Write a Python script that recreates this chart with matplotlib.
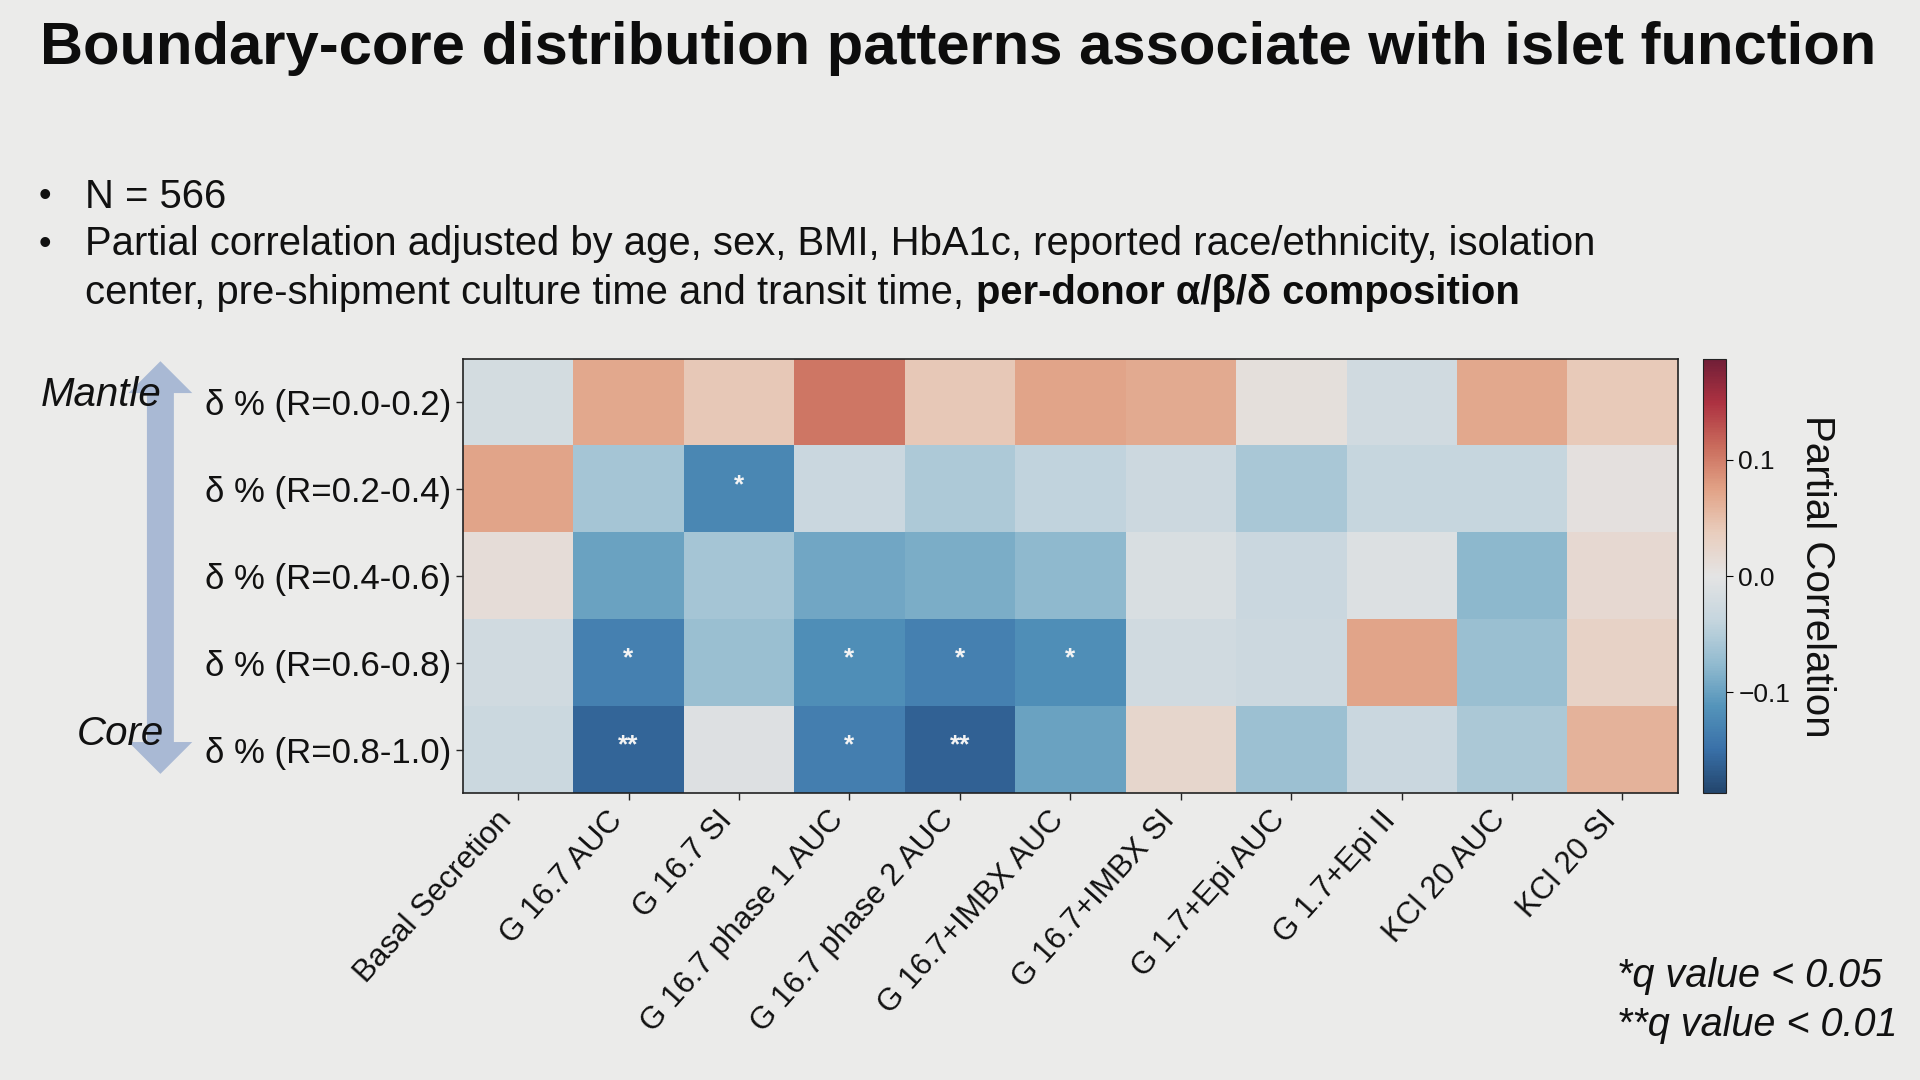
import numpy as np
import matplotlib
matplotlib.use("Agg")
from matplotlib import pyplot as plt
from matplotlib.patches import Polygon
from matplotlib.colors import ListedColormap

plt.rcParams['font.family'] = ['Liberation Sans', 'DejaVu Sans']

rows = ["δ % (R=0.0-0.2)", "δ % (R=0.2-0.4)", "δ % (R=0.4-0.6)",
        "δ % (R=0.6-0.8)", "δ % (R=0.8-1.0)"]
cols = ["Basal Secretion", "G 16.7 AUC", "G 16.7 SI", "G 16.7 phase 1 AUC",
        "G 16.7 phase 2 AUC", "G 16.7+IMBX AUC", "G 16.7+IMBX SI",
        "G 1.7+Epi AUC", "G 1.7+Epi II", "KCl 20 AUC", "KCl 20 SI"]

r_00_02 = [-0.020, 0.070, 0.042, 0.105, 0.042, 0.072, 0.068, 0.008, -0.024, 0.070, 0.040]
r_02_04 = [0.072, -0.060, -0.125, -0.032, -0.055, -0.040, -0.028, -0.058, -0.036, -0.036, 0.005]
r_04_06 = [0.012, -0.098, -0.060, -0.094, -0.088, -0.076, -0.014, -0.032, -0.010, -0.078, 0.018]
r_06_08 = [-0.024, -0.132, -0.070, -0.118, -0.132, -0.118, -0.024, -0.028, 0.072, -0.070, 0.028]
r_08_10 = [-0.030, -0.158, -0.008, -0.134, -0.162, -0.098, 0.022, -0.068, -0.032, -0.056, 0.060]

stars = [["", "", "", "", "", "", "", "", "", "", ""],
         ["", "", "*", "", "", "", "", "", "", "", ""],
         ["", "", "", "", "", "", "", "", "", "", ""],
         ["", "*", "", "*", "*", "*", "", "", "", "", ""],
         ["", "**", "", "*", "**", "", "", "", "", "", ""]]

vlim = 0.187
bg = "#ebebea"

values = np.array([r_00_02, r_02_04, r_04_06, r_06_08, r_08_10])

# RdBu_r, a little washed out like the projected slide
base = plt.get_cmap("RdBu_r")(np.linspace(0, 1, 256))[:, :3]
soft = (0.85 * base + 0.15 * 0.85) * 0.94
cmap = ListedColormap(soft)

fig = plt.figure(figsize=(19.2, 10.8), dpi=100, facecolor=bg)

# heatmap
ax = fig.add_axes([0.2411, 0.2653, 0.6327, 0.4025])
im = ax.imshow(values, cmap=cmap, vmin=-vlim, vmax=vlim, aspect="auto")
for i in range(len(rows)):
    for j in range(len(cols)):
        if stars[i][j]:
            ax.text(j, i - 0.05, stars[i][j], ha="center", va="center",
                    color="#f4f4f4", fontsize=19, fontweight="bold")
ax.set_xticks(range(len(cols)))
ax.set_xticklabels(cols, rotation=48, ha="right", fontsize=22.5)
ax.set_yticks(range(len(rows)))
ax.set_yticklabels(rows, fontsize=25)
ax.tick_params(length=5, width=1, color="#222222", labelcolor="#111111")
for s in ax.spines.values():
    s.set_color("#222222")
    s.set_linewidth(1.2)

# colorbar
cax = fig.add_axes([0.8871, 0.2653, 0.0121, 0.4025])
cb = fig.colorbar(im, cax=cax, ticks=[-0.1, 0.0, 0.1])
cb.ax.set_yticklabels(["\u22120.1", "0.0", "0.1"])
cb.ax.tick_params(labelsize=19, length=5, labelcolor="#111111")
cb.outline.set_edgecolor("#222222")
cb.set_label("Partial Correlation", rotation=270, fontsize=29, labelpad=33,
             color="#111111")

# title and bullets
fig.text(0.021, 0.955, "Boundary-core distribution patterns associate with islet function",
         fontsize=43, fontweight="bold", va="center", ha="left", color="#0d0d0d")
fig.text(0.020, 0.818, "•", fontsize=26, va="center", color="#111111")
fig.text(0.020, 0.774, "•", fontsize=26, va="center", color="#111111")
fig.text(0.0445, 0.818, "N = 566", fontsize=28.8, va="center", color="#111111")
fig.text(0.0445, 0.774,
         "Partial correlation adjusted by age, sex, BMI, HbA1c, reported race/ethnicity, isolation",
         fontsize=28.8, va="center", color="#111111")
t3 = fig.text(0.0445, 0.729, "center, pre-shipment culture time and transit time, ",
              fontsize=28.8, va="center", color="#111111")
fig.canvas.draw()
bb = t3.get_window_extent().transformed(fig.transFigure.inverted())
fig.text(bb.x1, 0.729, "per-donor α/β/δ composition", fontsize=28.8,
         fontweight="bold", va="center", color="#0d0d0d")

# mantle-core arrow
cx = 131 / 1568
hw = 26 / 1568
sw = 11 / 1568
top = 1 - 295 / 882
bot = 1 - 632 / 882
hl = 26 / 882
arrow = Polygon([[cx, top], [cx + hw, top - hl], [cx + sw, top - hl],
                 [cx + sw, bot + hl], [cx + hw, bot + hl], [cx, bot],
                 [cx - hw, bot + hl], [cx - sw, bot + hl], [cx - sw, top - hl],
                 [cx - hw, top - hl]], closed=True, transform=fig.transFigure,
                facecolor="#a9b9d4", edgecolor="none", zorder=1)
fig.patches.append(arrow)
fig.text(0.021, 0.634, "Mantle", fontsize=29, style="italic", va="center",
         color="#111111", zorder=3)
fig.text(0.040, 0.320, "Core", fontsize=29, style="italic", va="center",
         color="#111111", zorder=3)

# significance note
fig.text(0.842, 0.096, "*q value < 0.05", fontsize=28.5, style="italic",
         va="center", color="#111111")
fig.text(0.842, 0.051, "**q value < 0.01", fontsize=28.5, style="italic",
         va="center", color="#111111")

fig.savefig("out.png", dpi=100, facecolor=bg)
